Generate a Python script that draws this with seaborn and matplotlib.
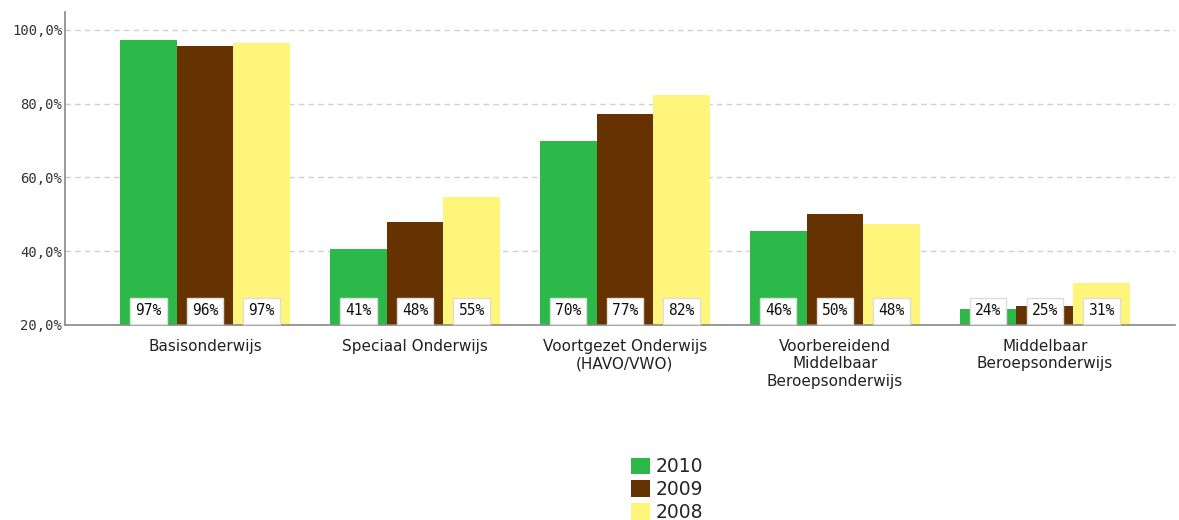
import numpy as np
import pandas as pd
import matplotlib
matplotlib.use("Agg")
import matplotlib.pyplot as plt
import seaborn as sns
from matplotlib.patches import Patch

categories = ["Basisonderwijs", "Speciaal Onderwijs", "Voortgezet Onderwijs\n(HAVO/VWO)",
              "Voorbereidend\nMiddelbaar\nBeroepsonderwijs", "Middelbaar\nBeroepsonderwijs"]
years = ["2010", "2009", "2008"]
values_2010 = [97.2, 40.7, 69.9, 45.6, 24.4]
values_2009 = [95.6, 47.8, 77.2, 50.0, 25.2]
values_2008 = [96.4, 54.8, 82.3, 47.5, 31.4]
labels_2010 = ["97%", "41%", "70%", "46%", "24%"]
labels_2009 = ["96%", "48%", "77%", "50%", "25%"]
labels_2008 = ["97%", "55%", "82%", "48%", "31%"]
yticks = [20, 40, 60, 80, 100]
ytick_labels = ["20,0%", "40,0%", "60,0%", "80,0%", "100,0%"]
colors = ["#2db84a", "#663300", "#fff57a"]

sns.set_theme(style="white")
plt.rcParams['font.family'] = ['DejaVu Sans']

rows = []
for yr, vals in zip(years, [values_2010, values_2009, values_2008]):
    for c, v in zip(categories, vals):
        rows.append({"cat": c, "year": yr, "value": v})
df = pd.DataFrame(rows)

fig = plt.figure(figsize=(11.79, 5.2), dpi=100)
ax = fig.add_axes([65/1179, 1-325/520, (1175-65)/1179, (325-11.5)/520])

sns.barplot(data=df, x="cat", y="value", hue="year", order=categories, hue_order=years,
            palette=colors, width=0.81, ax=ax, legend=False, saturation=1,
            edgecolor="none")

ax.set_ylim(20, 105)
ax.set_xlim(-0.667, 4.62)
ax.set_yticks(yticks)
ax.set_yticklabels(ytick_labels, fontsize=10, family="DejaVu Sans Mono", color="#333333")
ax.tick_params(axis="y", length=0, pad=2)
ax.tick_params(axis="x", length=0, pad=10, labelsize=11)
for lbl in ax.get_xticklabels():
    lbl.set_color("#222222")
ax.set_xlabel("")
ax.set_ylabel("")
ax.yaxis.grid(True, linestyle=(0, (4, 3)), color="#d0d0d0", linewidth=1)
ax.set_axisbelow(True)
for s in ["top", "right"]:
    ax.spines[s].set_visible(False)
for s in ["left", "bottom"]:
    ax.spines[s].set_color("#888888")
    ax.spines[s].set_linewidth(1.2)

all_labels = [labels_2010, labels_2009, labels_2008]
for cont, labs in zip(ax.containers, all_labels):
    for rect, lab in zip(cont, labs):
        xc = rect.get_x() + rect.get_width() / 2
        ax.text(xc, 23.8, lab, ha="center", va="center", fontsize=10.5,
                family="DejaVu Sans Mono", color="#111111",
                bbox=dict(boxstyle="square,pad=0.35", facecolor="white",
                          edgecolor="#dddddd", linewidth=1))

handles = [Patch(facecolor=c, edgecolor="none", label=y) for c, y in zip(colors, years)]
fig.legend(handles=handles, loc="upper left", bbox_to_anchor=(622/1179, 1-448/520),
           frameon=False, fontsize=13.5, handlelength=1.0, handleheight=1.0,
           handletextpad=0.3, labelspacing=0.2, borderpad=0)

fig.savefig("out.png", dpi=100)
